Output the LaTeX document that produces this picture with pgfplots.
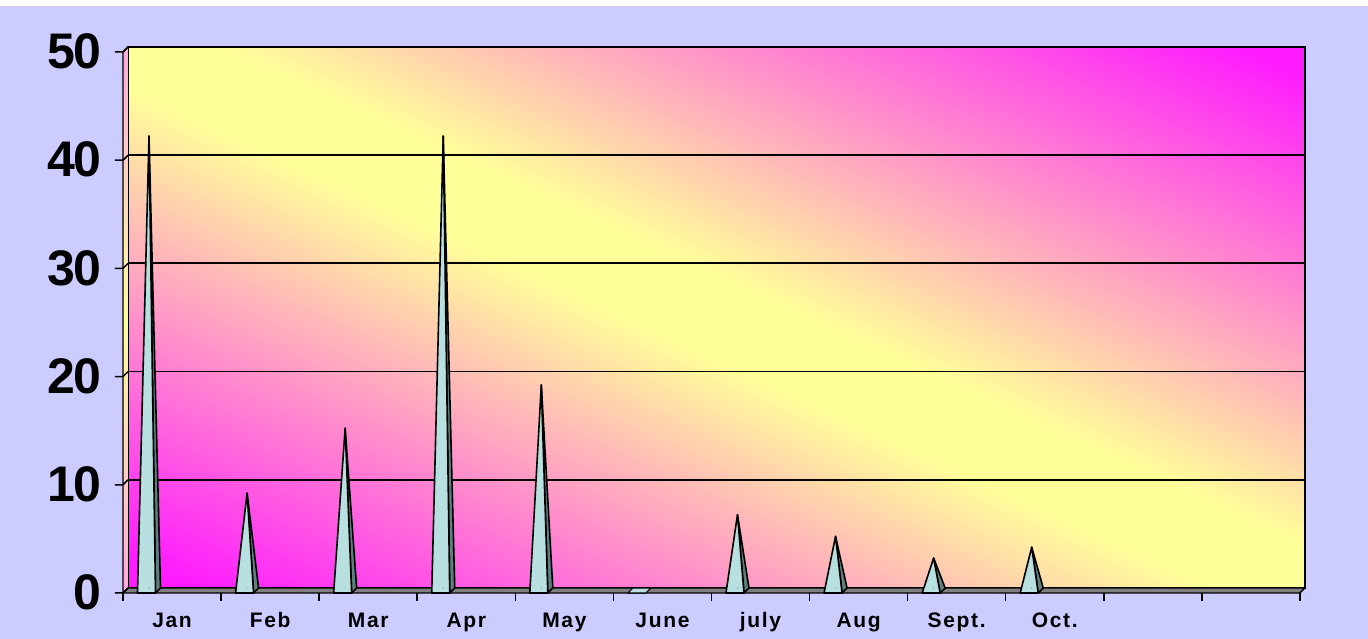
\documentclass[border=0pt]{standalone}
\usepackage{pgfplots}
\pgfplotsset{compat=1.18}
\usepackage{pgfplotstable}
\usepackage{fontspec}
\setmainfont{Liberation Sans}
\definecolor{lav}{HTML}{CCCCFF}
\definecolor{mag}{HTML}{FF1AFF}
\definecolor{yel}{HTML}{FFFF99}
\definecolor{pyrfront}{HTML}{B9E0E0}
\definecolor{pyrside}{HTML}{5F7F7F}
\definecolor{floorgray}{HTML}{808080}
\definecolor{sidepink}{HTML}{FFA8DD}
\pgfdeclarehorizontalshading{wall}{100bp}{color(0bp)=(mag); color(18.5bp)=(mag); color(47.5bp)=(yel); color(52.5bp)=(yel); color(81.5bp)=(mag); color(100bp)=(mag)}
\newcommand\xfont{\bfseries\fontsize{21}{21}\selectfont\addfontfeatures{LetterSpace=8}}
\newcommand\yfont{\bfseries\fontsize{50}{50}\selectfont\addfontfeatures{LetterSpace=-3}}
\pgfplotstableread{
x v
0 42
1 9
2 15
3 42
4 19
5 0
6 7
7 5
8 3
9 4
}\monthdata
\begin{document}
\begin{tikzpicture}
\fill[lav] (-128pt,-51pt) rectangle (1240pt,582pt);
\fill[white] (-128pt,582pt) rectangle (1240pt,588pt);
\begin{axis}[
  anchor=origin, at={(0pt,0pt)},
  x=98.08pt, y=10.82pt,
  xmin=0, xmax=12, ymin=0, ymax=50,
  clip=false,
  axis background/.style={shade, shading=wall, shading angle=65.3},
  axis line style={line width=1.8pt, black},
  major tick length=0pt,
  ymajorgrids, grid style={black, line width=1.8pt},
  ytick={0,10,20,30,40,50}, yticklabels={0,10,20,30,40,50},
  xtick={0.5,1.5,2.5,3.5,4.5,5.5,6.5,7.5,8.5,9.5},
  xticklabels={Jan,Feb,Mar,Apr,May,June,july,Aug,Sept.,Oct.},
  xticklabel style={font=\xfont, anchor=base, inner sep=0pt, xshift=-5pt, yshift=-40pt},
  yticklabel style={font=\yfont, anchor=east, inner sep=0pt, xshift=-26pt, yshift=-4.5pt},
]
% left side wall
\shade[top color=sidepink, bottom color=sidepink, middle color=yel]
  (axis cs:0,0) -- (axis cs:0,50) -- ++(-5pt,-5pt) -- ([xshift=-5pt,yshift=-5pt]axis cs:0,0) -- cycle;
\draw[line width=1.2pt] (axis cs:0,50) -- ++(-5pt,-5pt) -- ([xshift=-5pt,yshift=-5pt]axis cs:0,0);
% floor
\filldraw[fill=floorgray, draw=black, line width=1.4pt, line join=round]
  (axis cs:0,0) -- ++(-5pt,-5pt) -- ([xshift=-5pt,yshift=-5pt]axis cs:12,0) -- (axis cs:12,0) -- cycle;
% grid stubs and front y ticks
\pgfplotsinvokeforeach{0,10,20,30,40,50}{
  \draw[line width=1.5pt] (axis cs:0,#1) -- ++(-5pt,-5pt) -- ++(-8pt,0pt);
}
% front x ticks
\pgfplotsinvokeforeach{0,1,2,3,4,5,6,7,8,9,10,11,12}{
  \draw[line width=1.5pt] ([xshift=-5pt,yshift=-5pt]axis cs:#1,0) -- ++(0pt,-8pt);
}
% pyramids
\addplot[scatter, only marks, mark=*, mark size=0.01pt, mark options={draw=none, fill=none},
  visualization depends on={\thisrow{v} \as \val},
  scatter/@pre marker code/.code={%
    \pgfmathsetmacro\hh{\val*10.82-2.5}%
    \ifdim\val pt<0.01pt
      \filldraw[fill=pyrfront, draw=black, line width=1.2pt, line join=round]
        (-11.5pt,-5pt) -- (6.5pt,-5pt) -- (11.5pt,0pt) -- (-6.5pt,0pt) -- cycle;
    \else
      \filldraw[fill=pyrside, draw=black, line width=1.6pt, line join=round]
        (6.5pt,-5pt) -- (11.5pt,0pt) -- (0pt,\hh pt) -- cycle;
      \filldraw[fill=pyrfront, draw=black, line width=1.6pt, line join=round]
        (-11.5pt,-5pt) -- (6.5pt,-5pt) -- (0pt,\hh pt) -- cycle;
    \fi
  },
  scatter/@post marker code/.code={},
] table[x expr=\thisrow{x}+0.214, y expr=0] {\monthdata};
\end{axis}
\end{tikzpicture}
\end{document}
